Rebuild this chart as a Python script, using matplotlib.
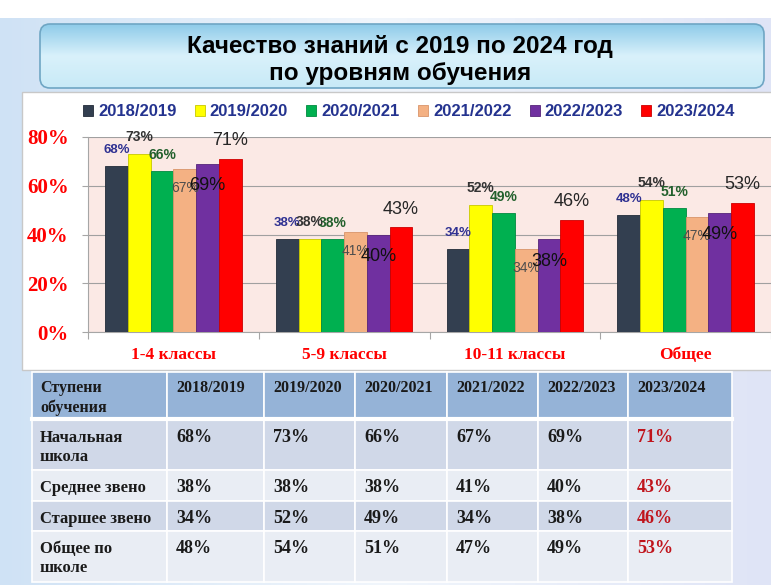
import numpy as np
import matplotlib.pyplot as plt
from matplotlib.patches import Rectangle, FancyBboxPatch
from matplotlib.colors import LinearSegmentedColormap

# data
years = ['2018/2019', '2019/2020', '2020/2021', '2021/2022', '2022/2023', '2023/2024']
groups = ['1-4 классы', '5-9 классы', '10-11 классы', 'Общее']
v_2018 = [68, 38, 34, 48]
v_2019 = [73, 38, 52, 54]
v_2020 = [66, 38, 49, 51]
v_2021 = [67, 41, 34, 47]
v_2022 = [69, 40, 38, 49]
v_2023 = [71, 43, 46, 53]
series = [v_2018, v_2019, v_2020, v_2021, v_2022, v_2023]

row_labels = ['Начальная\nшкола', 'Среднее звено', 'Старшее звено', 'Общее по\nшколе']
head_label = 'Ступени\nобучения'
title = 'Качество знаний с 2019 по 2024 год\nпо уровням обучения'

colors = ['#333f50', '#ffff00', '#00b050', '#f4b183', '#7030a0', '#ff0000']
edges = ['#222b38', '#c8c800', '#008a40', '#d9956a', '#55247a', '#cc0000']

# label style per series: color, size, weight, offset in px (+ above / - inside)
lab_style = [
    ('#2f3192', 9.5, 'bold', 16),
    ('#333333', 10, 'bold', 17),
    ('#22602c', 10, 'bold', 16),
    ('#4d4d4d', 10, 'normal', -19),
    ('#111111', 13, 'normal', -22),
    ('#262626', 13, 'normal', 18),
]

W, H = 771, 585
SANS = ['Liberation Sans', 'DejaVu Sans']
SERIF = ['Liberation Serif', 'DejaVu Serif']

fig = plt.figure(figsize=(W / 100, H / 100), dpi=100)
bg = fig.add_axes([0, 0, 1, 1])
bg.set_xlim(0, W)
bg.set_ylim(H, 0)
bg.axis('off')

# slide background
cmap_bg = LinearSegmentedColormap.from_list('bg', ['#cfe2f5', '#f1f6fc', '#dfe4f6'])
bg.imshow(np.linspace(0, 1, 256)[None, :], cmap=cmap_bg, extent=[0, W, H, 18],
          aspect='auto', zorder=0)

# title box
tbox = FancyBboxPatch((40, 24), 724, 64, boxstyle='round,pad=0,rounding_size=10',
                      fc='none', ec='#6fa6c4', lw=1.2, zorder=3)
bg.add_patch(tbox)
cmap_t = LinearSegmentedColormap.from_list('t', ['#8ecbe9', '#d9f1fb', '#c8eaf7'])
im = bg.imshow(np.linspace(0, 1, 256)[:, None], cmap=cmap_t, extent=[40, 764, 88, 24],
               aspect='auto', zorder=2)
im.set_clip_path(tbox)
bg.text(400, 60, title, ha='center', va='center', fontsize=17.5, fontweight='bold',
        family=SANS, linespacing=1.2, zorder=4)

# white chart panel
bg.add_patch(Rectangle((22, 92), 760, 278, fc='white', ec='#c8c8c8', lw=1, zorder=1))

# table
col_x = [32, 167, 264, 355, 447, 538, 628, 732]
row_y = [372, 418, 470, 501, 531, 582]
row_fc = ['#95b3d7', '#d0d8e8', '#e9edf4', '#d0d8e8', '#e9edf4']
for r in range(5):
    for c in range(7):
        bg.add_patch(Rectangle((col_x[c], row_y[r]), col_x[c + 1] - col_x[c],
                               row_y[r + 1] - row_y[r], fc=row_fc[r], ec='white',
                               lw=1.2, zorder=1))
bg.plot([col_x[0], col_x[-1]], [row_y[1] + 1, row_y[1] + 1], color='white', lw=3, zorder=2)


def cell_text(x0, base, txt, size, color='#1a1a1a', step=19):
    # one text per line, so each baseline is placed exactly
    for k, line in enumerate(txt.split('\n')):
        bg.text(x0, base + k * step, line, ha='left', va='baseline', fontsize=size,
                fontweight='bold', family=SERIF, color=color, zorder=3)


cell_text(col_x[0] + 8, row_y[0] + 20, head_label, 11.5, step=20)
for c, yr in enumerate(years):
    cell_text(col_x[c + 1] + 9, row_y[0] + 20, yr, 11.5)

for r, lab in enumerate(row_labels):
    top = row_y[r + 1] + (3 if r == 0 else 1)
    cell_text(col_x[0] + 8, top + 21, lab, 12)
    for c, s in enumerate(series):
        cell_text(col_x[c + 1] + 9, top + 21, f'{s[r]}%', 13,
                  color='#c0141c' if c == 5 else '#1a1a1a')

# bar chart
ax = fig.add_axes([88 / W, (H - 332) / H, (771 - 88) / W, (332 - 137) / H])
ax.set_facecolor('#fbe9e5')
x = np.arange(len(groups))
bw = 0.133
handles = []
for i, (vals, yr) in enumerate(zip(series, years)):
    xs = x + (i - 2.5) * bw
    b = ax.bar(xs, vals, bw, color=colors[i], edgecolor=edges[i], linewidth=0.6,
               label=yr, zorder=3)
    handles.append(b)
    col, size, wt, dy = lab_style[i]
    for xx, v in zip(xs, vals):
        ax.annotate(f'{v}%', (xx, v), xytext=(0, dy), textcoords='offset pixels',
                    ha='center', va='center', fontsize=size, fontweight=wt,
                    color=col, family=SANS, zorder=4)

ax.set_xlim(-0.5, 3.5)
ax.set_ylim(0, 80)
ax.set_yticks([0, 20, 40, 60, 80])
ax.set_yticklabels([f'{t}%' for t in [0, 20, 40, 60, 80]], fontsize=15,
                   fontweight='bold', family=SERIF, color='#ff0000')
ax.tick_params(axis='y', length=4, color='#a6a6a6', pad=10)
ax.set_xticks([-0.5, 0.5, 1.5, 2.5, 3.5])
ax.set_xticklabels([])
ax.tick_params(axis='x', length=5, color='#a6a6a6')
ax.set_xticks(x, minor=True)
ax.set_xticklabels(groups, minor=True, fontsize=12.5, fontweight='bold',
                   family=SERIF, color='#ff0000')
ax.tick_params(axis='x', which='minor', length=0, pad=11)
ax.grid(axis='y', color='#a0a0a0', lw=0.8, zorder=0)
ax.set_axisbelow(True)
for s in ['top', 'right']:
    ax.spines[s].set_visible(False)
for s in ['left', 'bottom']:
    ax.spines[s].set_color('#a6a6a6')

fig.legend(handles=handles, labels=years, ncol=6, loc='center',
           bbox_to_anchor=(409 / W, 1 - 112 / H), frameon=False,
           handlelength=0.6, handleheight=0.6, handletextpad=0.3, columnspacing=1.1,
           prop={'family': SANS, 'weight': 'bold', 'size': 12}, labelcolor='#24338f')

fig.savefig('out.png', dpi=100)
